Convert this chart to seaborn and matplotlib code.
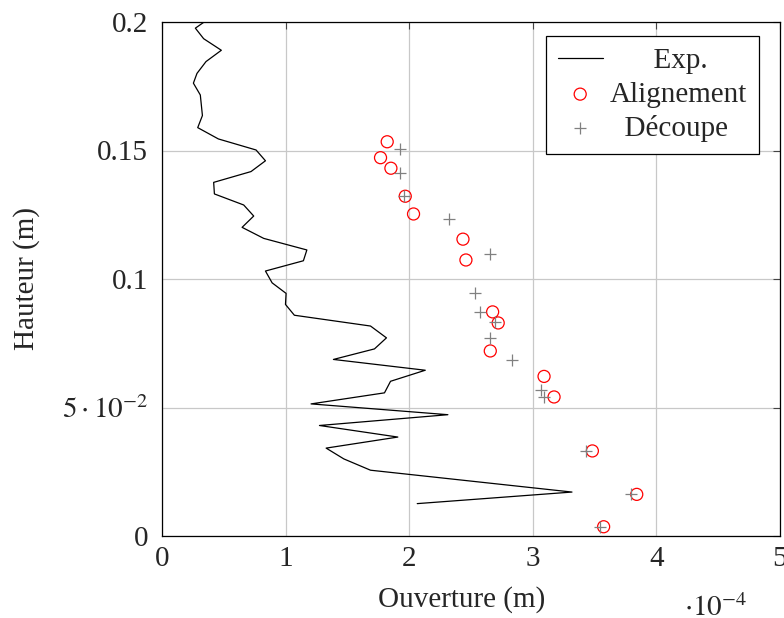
import matplotlib
matplotlib.use("Agg")
import matplotlib.pyplot as plt
import seaborn as sns
import pandas as pd

# Exp. curve (ouverture in 1e-4 m, hauteur in m)
exp_x = [0.356, 0.27, 0.337, 0.48, 0.356, 0.283, 0.254, 0.31, 0.327, 0.289,
         0.456, 0.761, 0.837, 0.72, 0.418, 0.424, 0.661, 0.742, 0.648, 0.823,
         1.172, 1.144, 0.837, 0.891, 1.004, 0.999, 1.071, 1.687, 1.816, 1.719,
         1.387, 2.13, 1.849, 1.80, 1.206, 2.313, 1.274, 1.908, 1.328, 1.471,
         1.687, 3.317, 2.065]
exp_y = [0.2005, 0.1976, 0.1935, 0.189, 0.1846, 0.180, 0.1762, 0.1716, 0.1636, 0.1589,
         0.1545, 0.1502, 0.146, 0.1418, 0.1376, 0.1331, 0.1288, 0.1245, 0.1201, 0.1158,
         0.1113, 0.1071, 0.1031, 0.0985, 0.0944, 0.0901, 0.0859, 0.0817, 0.0771, 0.0728,
         0.0687, 0.0645, 0.0602, 0.0557, 0.0514, 0.0472, 0.0430, 0.0385, 0.0342, 0.0300,
         0.0256, 0.0171, 0.0126]

# Alignement
ali_x = [1.822, 1.768, 1.852, 1.968, 2.035, 2.435, 2.459, 2.675, 2.72, 2.656,
         3.091, 3.172, 3.482, 3.841, 3.573]
ali_y = [0.1534, 0.1472, 0.1431, 0.1322, 0.1253, 0.1155, 0.1074, 0.0872, 0.0829, 0.0720,
         0.0621, 0.0541, 0.0331, 0.0162, 0.0036]

# Decoupe
dec_x = [1.922, 1.922, 1.957, 2.324, 2.65, 2.529, 2.575, 2.691, 2.656, 2.832,
         3.069, 3.091, 3.433, 3.798, 3.541]
dec_y = [0.1506, 0.1414, 0.1322, 0.1233, 0.1097, 0.0944, 0.0870, 0.0831, 0.0772, 0.0684,
         0.0570, 0.0539, 0.0331, 0.0162, 0.0036]

xticks = [0, 1, 2, 3, 4, 5]
yticks = [0, 0.05, 0.1, 0.15, 0.2]
ytick_labels = ["0", r"$5\cdot10^{-2}$", "0.1", "0.15", "0.2"]

FS = 21

sns.set_style("whitegrid")
plt.rcParams["font.family"] = ["Liberation Serif", "DejaVu Serif"]
plt.rcParams["mathtext.fontset"] = "stix"

fig = plt.figure(figsize=(7.84, 6.18), dpi=100)
ax = fig.add_axes([162 / 784, 1 - 536 / 618, 618 / 784, 514 / 618])

df_exp = pd.DataFrame({"x": exp_x, "y": exp_y})
# labels padded with spaces so they look centred like the original legend
sns.lineplot(data=df_exp, x="x", y="y", sort=False, estimator=None, color="black",
             linewidth=0.9, ax=ax, label="      Exp.")
sns.scatterplot(x=ali_x, y=ali_y, marker="o", s=75, facecolor="none", edgecolor="red",
                linewidth=0.9, ax=ax, label="Alignement", zorder=3)
sns.scatterplot(x=dec_x, y=dec_y, marker="+", s=65, color="#808080",
                linewidth=0.9, ax=ax, label="  Découpe", zorder=3)

ax.set_xlim(0, 5)
ax.set_ylim(0, 0.2)
ax.set_xticks(xticks)
ax.set_xticklabels([str(t) for t in xticks])
ax.set_yticks(yticks)
ax.set_yticklabels(ytick_labels)
ax.grid(True, color="#c8c8c8", linewidth=0.9)
ax.tick_params(direction="in", length=5, width=0.8, color="#444444", labelsize=FS,
               top=True, right=True)
ax.tick_params(axis="x", pad=7)
ax.tick_params(axis="y", pad=10)
for sp in ax.spines.values():
    sp.set_color("black")
    sp.set_linewidth(0.9)

ax.set_xlabel("Ouverture (m)", fontsize=FS)
ax.xaxis.set_label_coords(0.485, -0.098)
ax.set_ylabel("Hauteur (m)", fontsize=FS)
ax.yaxis.set_label_coords(-0.197, 0.5)
fig.text(684 / 784, 1 - 608 / 618, r"$\cdot10^{-4}$", fontsize=FS, ha="left", va="center")

leg = ax.legend(loc="upper right", bbox_to_anchor=((759 - 162) / 618, 1 - 14 / 514),
                borderaxespad=0, fontsize=FS, frameon=True, fancybox=False,
                edgecolor="black", framealpha=1, borderpad=0.4, labelspacing=0.25,
                handlelength=1.55, handletextpad=0.25)
leg.get_frame().set_linewidth(0.9)

fig.savefig("out.png", dpi=100)
